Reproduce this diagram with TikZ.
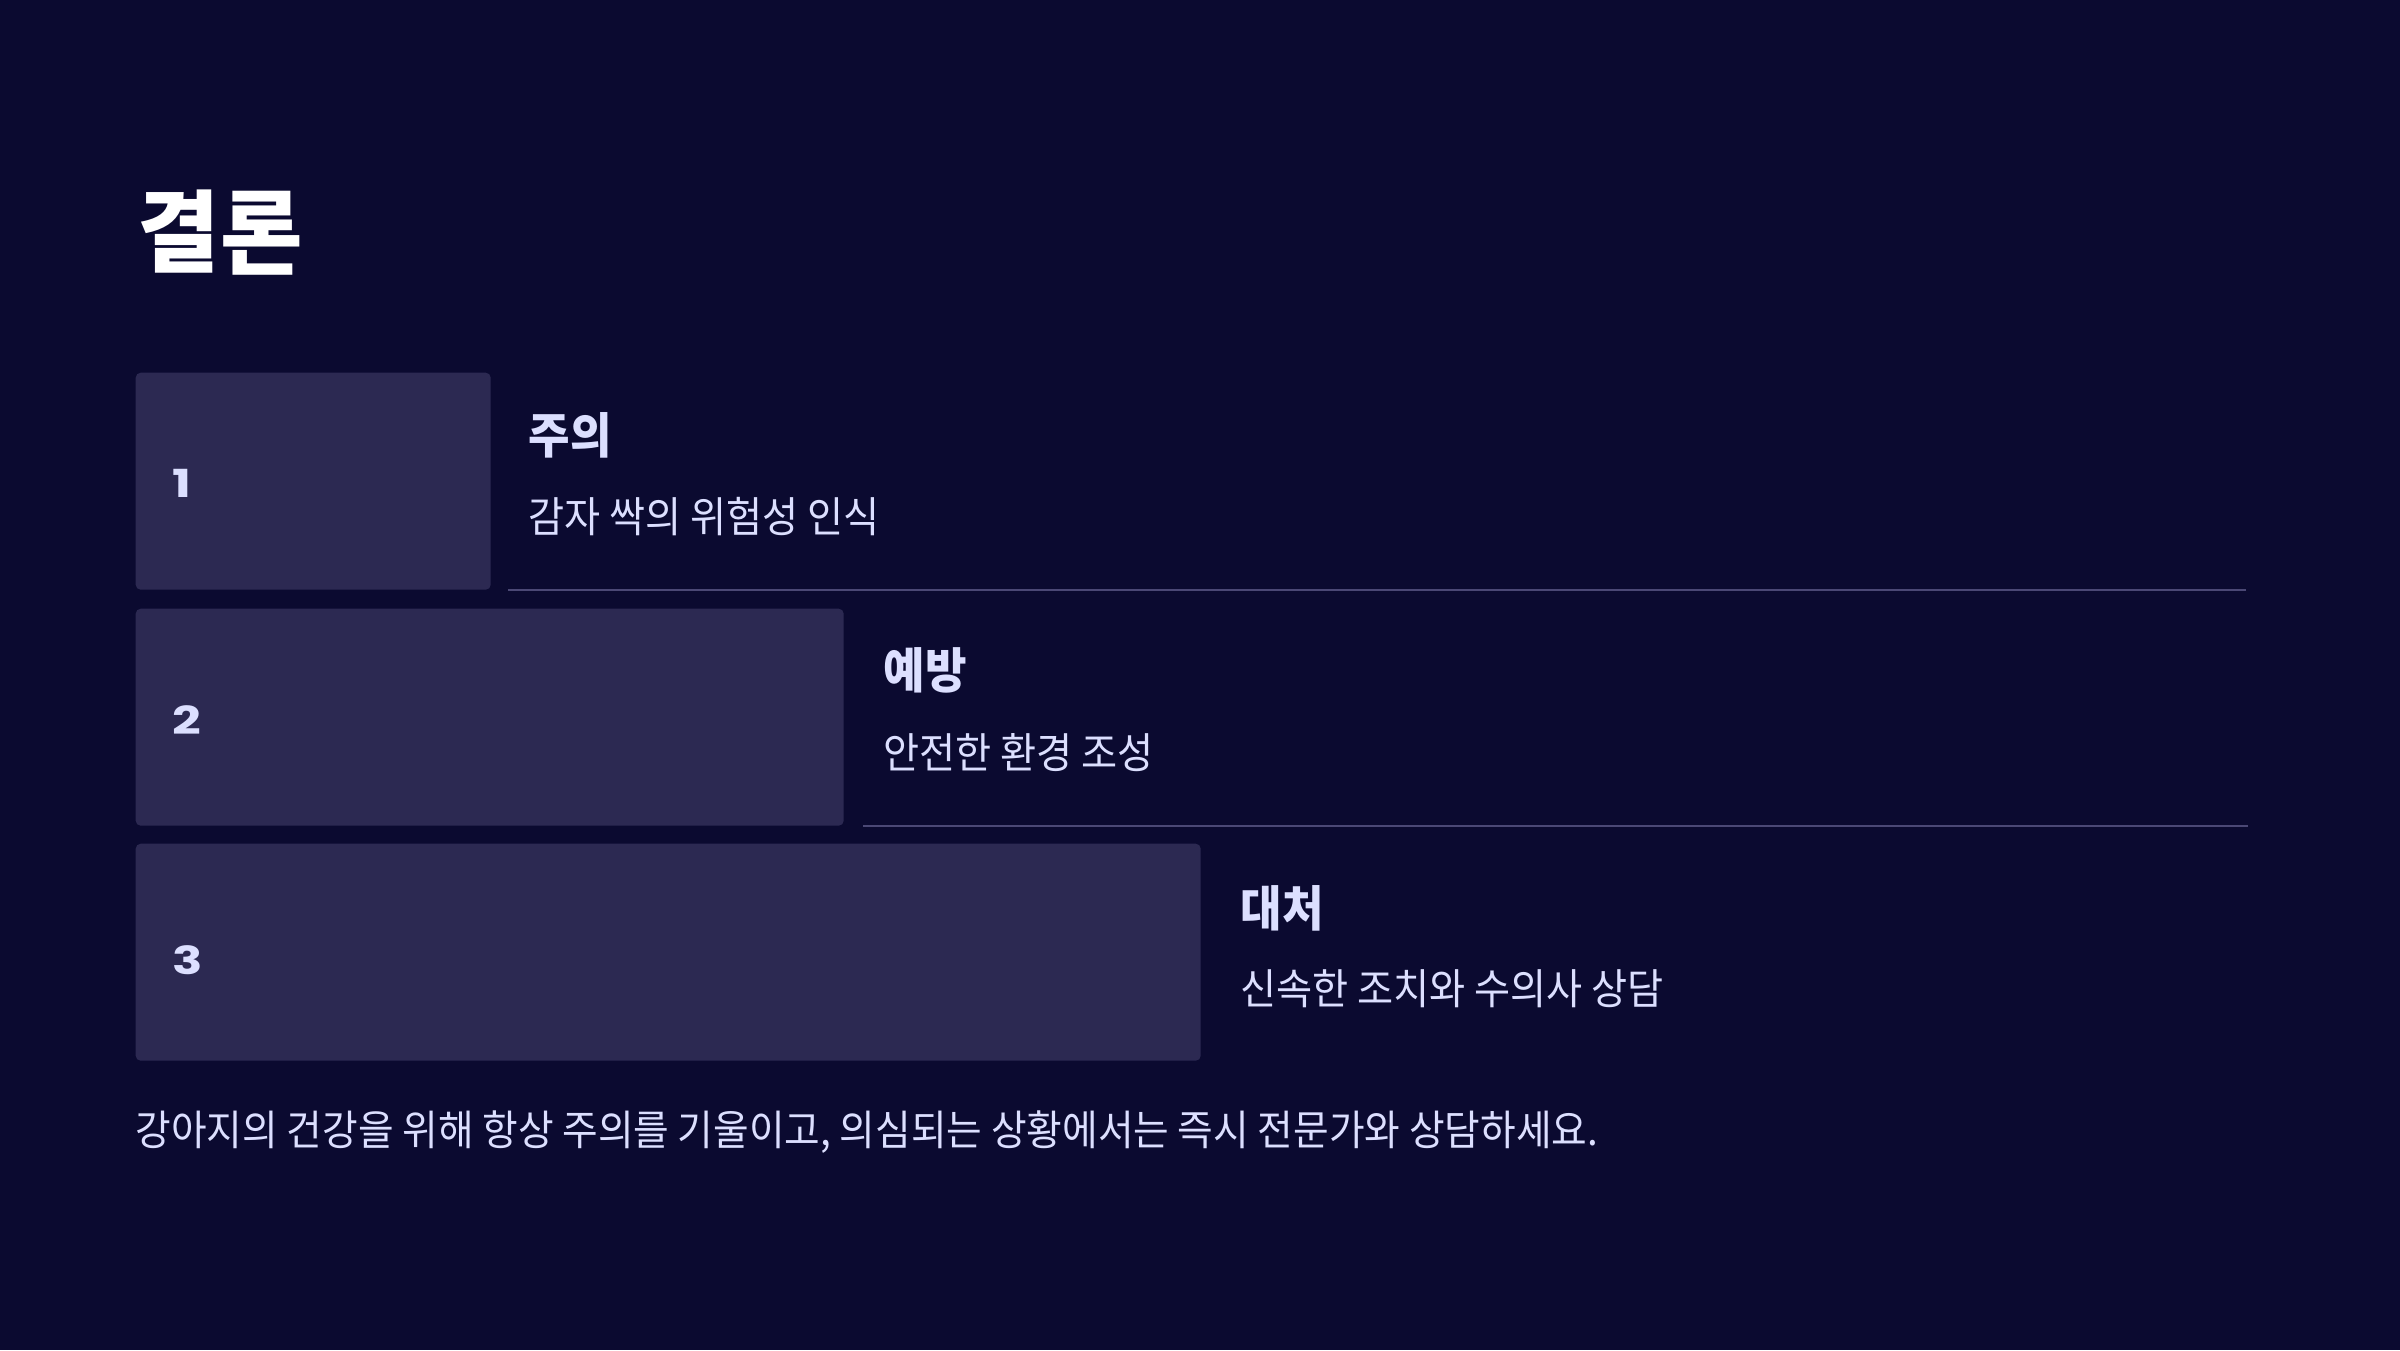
\documentclass[tikz,border=0pt]{standalone}
\usepackage{fontspec}
\setmainfont{Noto Sans CJK KR}
\newfontfamily\krtext{Noto Sans CJK KR}[FakeStretch=0.93]
\newfontfamily\numfont{Poppins}[FakeStretch=1.3]
\definecolor{bgnavy}{HTML}{0B0A30}
\definecolor{cardpurple}{HTML}{2C2952}
\definecolor{rulegrey}{HTML}{4B4875}
\definecolor{lavender}{HTML}{DCDFFF}

\begin{document}
\begin{tikzpicture}[x=0.1mm,y=-0.1mm,
    card/.style={fill=cardpurple,rounded corners=0.5mm,anchor=north west,inner sep=0pt,minimum height=21.7mm},
    num/.style={text=lavender,font=\numfont\bfseries\fontsize{11}{13}\selectfont,anchor=west,inner sep=0pt},
    head/.style={text=lavender,font=\krtext\bfseries\fontsize{13.8}{16}\selectfont,anchor=west,inner sep=0pt},
    desc/.style={text=lavender,font=\krtext\fontsize{12}{14}\selectfont,anchor=west,inner sep=0pt},
    rule/.style={draw=rulegrey,line width=0.2mm}]
  \fill[bgnavy] (0,0) rectangle (2400,1350);

  \node[text=white,font=\bfseries\fontsize{25.5}{30}\selectfont,anchor=west,inner sep=0pt] (title) at (137,233) {결론};

  % first row
  \node[card,minimum width=35.5mm] (card1) at (135,372) {};
  \node[num] (num1) at (172,483) {1};
  \node[head] (head1) at (528,435) {주의};
  \node[desc] (desc1) at (528,517) {감자 싹의 위험성 인식};
  \coordinate (rule1a) at (508,590);
  \coordinate (rule1b) at (2246,590);
  \draw[rule] (rule1a) -- (rule1b);

  % second row
  \node[card,minimum width=70.8mm] (card2) at (135,608) {};
  \node[num] (num2) at (172,720) {2};
  \node[head] (head2) at (883,670) {예방};
  \node[desc] (desc2) at (883,753) {안전한 환경 조성};
  \coordinate (rule2a) at (863,826);
  \coordinate (rule2b) at (2248,826);
  \draw[rule] (rule2a) -- (rule2b);

  % third row
  \node[card,minimum width=106.5mm] (card3) at (135,843) {};
  \node[num] (num3) at (172,960) {3};
  \node[head] (head3) at (1240,908) {대처};
  \node[desc] (desc3) at (1240,989) {신속한 조치와 수의사 상담};

  \node[desc,font=\krtext\fontsize{11.85}{14}\selectfont] (footer) at (135,1132)
    {강아지의 건강을 위해 항상 주의를 기울이고, 의심되는 상황에서는 즉시 전문가와 상담하세요.};
\end{tikzpicture}
\end{document}
